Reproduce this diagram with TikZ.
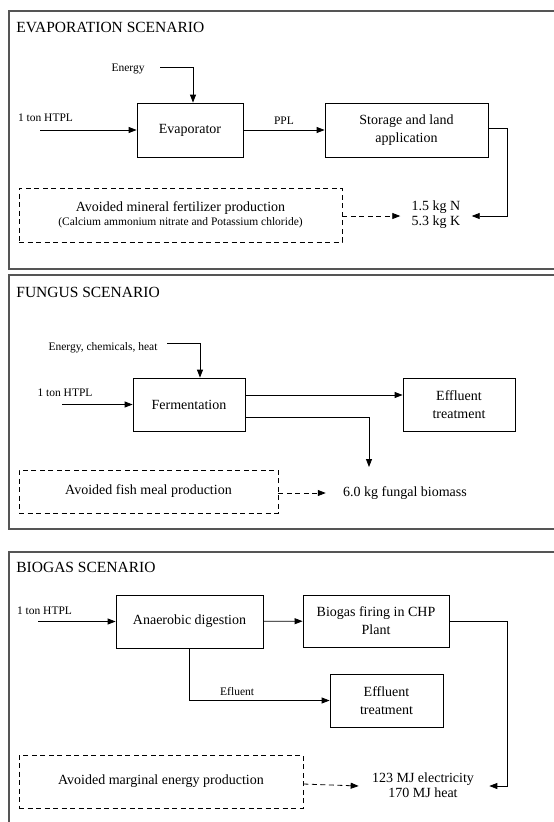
\documentclass[tikz,border=0pt]{standalone}
\usepackage{fontspec}
\setmainfont{Liberation Serif}
\usetikzlibrary{arrows.meta}
\definecolor{framegray}{RGB}{85,85,85}

\tikzset{
  box/.style={draw, thick, align=center, font=\fontsize{14}{18}\selectfont, inner sep=2pt},
  avoid/.style={draw, thick, dash pattern=on 5pt off 3.5pt, align=center, font=\fontsize{14}{15}\selectfont},
  lbl/.style={font=\fontsize{11.5}{13}\selectfont, inner sep=1pt},
  yield/.style={align=center, font=\fontsize{14}{15}\selectfont, inner sep=1pt},
  scen/.style={anchor=west, font=\fontsize{15.5}{17}\selectfont, inner sep=0pt},
  frame/.style={line width=1.3pt, framegray},
}

\begin{document}
\begin{tikzpicture}[x=1pt, y=-1pt, >={Triangle[length=8pt,width=6pt]}, thick]
  \useasboundingbox (0,0) rectangle (554,822);

  % evaporation
  \draw[frame] (554,11) -- (9,11) -- (9,269) -- (554,269);
  \node[scen] (t1) at (16,27) {EVAPORATION SCENARIO};
  \node[box, minimum width=106, minimum height=54] (evap) at (190,130) {Evaporator};
  \node[box, minimum width=163, minimum height=54] (store) at (406.5,130) {Storage and land\\application};
  \node[lbl] (energy) at (128,69) {Energy};
  \node[lbl] (htpl1) at (45.5,118) {1 ton HTPL};
  \node[yield] (nk) at (436,214.5) {1.5 kg N\\5.3 kg K};
  \node[avoid, minimum width=323, minimum height=54] (avoid1) at (180.5,215)
        {Avoided mineral fertilizer production\\[-1pt]{\fontsize{11.5}{13}\selectfont(Calcium ammonium nitrate and Potassium chloride)}};
  \coordinate (in1) at (40,130);
  \coordinate (en1) at (160,67);
  \draw[->] (in1) -- (evap.west);
  \draw[->] (en1) -| ([xshift=3pt]evap.north);
  \draw[->] (evap) -- node[lbl, above=4pt] (ppl) {PPL} (store);
  \draw[->] ([yshift=2pt]store.east) -- ++(19,0) |- ([xshift=10pt, yshift=-1.5pt]nk.east);
  \draw[->, dash pattern=on 5pt off 3.5pt] ([yshift=-1pt]avoid1.east) -- ([xshift=-10pt, yshift=-1.5pt]nk.west);

  % fungus
  \draw[frame] (554,275) -- (9,275) -- (9,529) -- (554,529);
  \node[scen] (t2) at (16,292) {FUNGUS SCENARIO};
  \node[box, minimum width=112, minimum height=53] (ferm) at (189,404.5) {Fermentation};
  \node[box, minimum width=112, minimum height=53] (eff2) at (459,404.5) {Effluent\\treatment};
  \node[lbl] (energy2) at (103,348) {Energy, chemicals, heat};
  \node[lbl] (htpl2) at (65,393) {1 ton HTPL};
  \node[yield] (bio) at (405,493) {6.0 kg fungal biomass};
  \node[avoid, minimum width=259, minimum height=43] (avoid2) at (148.5,491.5) {Avoided fish meal production};
  \coordinate (in2) at (62,404.5);
  \coordinate (en2) at (167,343);
  \coordinate (fb) at (369,467);
  \draw[->] (in2) -- (ferm.west);
  \draw[->] (en2) -| ([xshift=11pt]ferm.north);
  \draw[->] ([yshift=9.5pt]ferm.east) -- ([yshift=9.5pt]eff2.west);
  \draw[->] ([yshift=-12.5pt]ferm.east) -| (fb);
  \draw[->, dash pattern=on 5pt off 3.5pt] ([yshift=-1.5pt]avoid2.east) -- ([xshift=-16pt]bio.west);

  % biogas
  \draw[frame] (554,552) -- (9,552) -- (9,822);
  \node[scen] (t3) at (16,567) {BIOGAS SCENARIO};
  \node[box, minimum width=147, minimum height=53] (ad) at (189.5,621.5) {Anaerobic digestion};
  \node[box, minimum width=146, minimum height=52] (chp) at (376,621) {Biogas firing in CHP\\Plant};
  \node[box, minimum width=113, minimum height=53] (eff3) at (386.5,700.5) {Effluent\\treatment};
  \node[lbl] (htpl3) at (44.5,611) {1 ton HTPL};
  \node[yield] (mj) at (423,785) {123 MJ electricity\\170 MJ heat};
  \node[avoid, minimum width=284, minimum height=53] (avoid3) at (161,781.5) {Avoided marginal energy production};
  \coordinate (in3) at (38,621.5);
  \draw[->] (in3) -- (ad.west);
  \draw[->] (ad) -- (chp);
  \draw[->] (ad.south) |- node[lbl, above=3pt, pos=0.67] (efl) {Efluent} (eff3.west);
  \draw[->] (chp.east) -- ++(58,0) |- ([xshift=14pt, yshift=-1pt]mj.east);
  \draw[->, dash pattern=on 5pt off 3.5pt] ([yshift=-2.5pt]avoid3.east) -- ([xshift=-12pt, yshift=-1pt]mj.west);
\end{tikzpicture}
\end{document}
